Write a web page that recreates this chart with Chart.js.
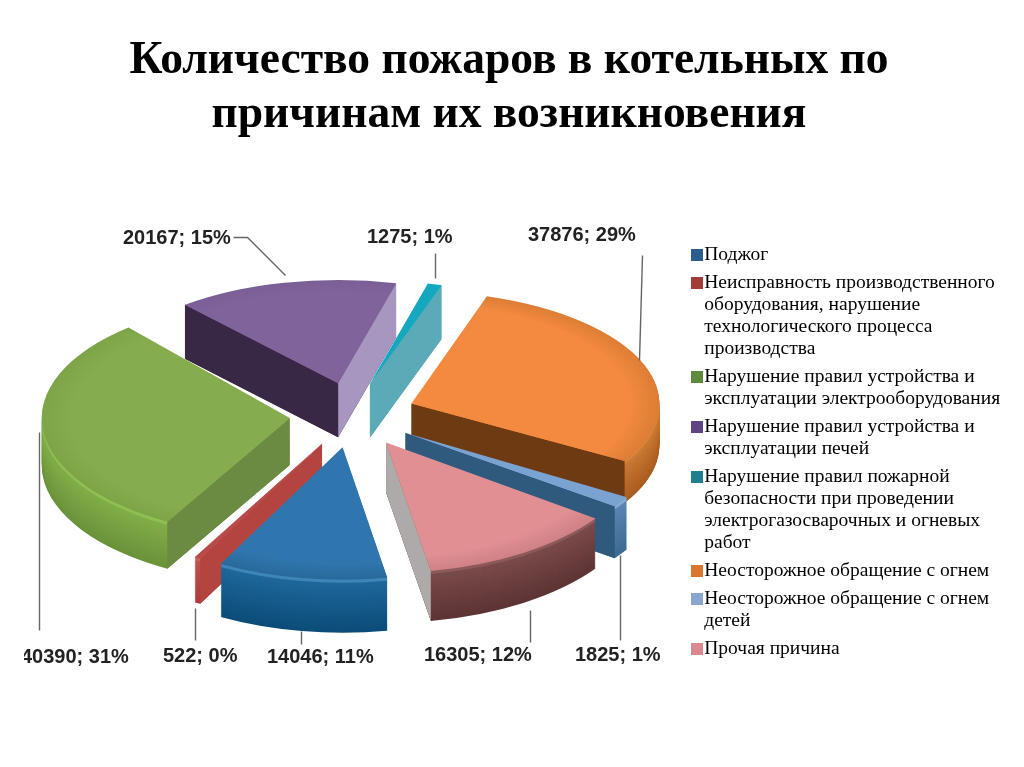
<!DOCTYPE html>
<html><head><meta charset="utf-8">
<style>html,body{margin:0;padding:0;background:#fff}canvas{display:block}</style>
<script src="https://cdn.jsdelivr.net/npm/chart.js@4"></script>
</head><body><canvas id="c" width="1024" height="767"></canvas>
<script>
const titleLines = ['Количество пожаров в котельных по', 'причинам их возникновения'];
const categories = [
  ['Поджог'],
  ['Неисправность производственного', 'оборудования, нарушение', 'технологического процесса', 'производства'],
  ['Нарушение правил устройства и', 'эксплуатации электрооборудования'],
  ['Нарушение правил устройства и', 'эксплуатации печей'],
  ['Нарушение правил пожарной', 'безопасности при проведении', 'электрогазосварочных и огневых', 'работ'],
  ['Неосторожное обращение с огнем'],
  ['Неосторожное обращение с огнем', 'детей'],
  ['Прочая причина']
];
const values = [14046, 522, 40390, 20167, 1275, 37876, 1825, 16305];

const topColors   = ['#2e76ad','#b94a4a','#85ad4e','#80639b','#14a8c0','#f38a3f','#7aa3d2','#e08f93'];
const topEdges    = ['#28699b','#b94a4a','#7da547','#7a5e95','#14a8c0','#dd7d36','#7aa3d2','#cf8186'];
const legendBoxes = ['#2c5d8f','#a33b38','#5d8a3c','#5e4484','#1f7f8f','#d9752d','#8aa5cf','#d98a90'];
const sideTop     = ['#1f6a9e','#c25450','#83b04a','#3a2846','#5aaab8','#cf7c34','#5d86b4','#7c4c4c'];
const sideBottom  = ['#0c4c78','#a83c3a','#6a933a','#3a2846','#5aaab8','#a85c20','#3d6a94','#5e3434'];
const rimColors   = ['#3f86b8','#cc5f5b','#90bf54','#80639b','#14a8c0','#d8843a','#88aad0','#8c5a5a'];
const startFaces  = ['#1f6a9e','#b4443f','#6b8a42','#382745','#14a8c0','#cf7c34','#5d86b4','#7c4c4c'];
const endFaces    = ['#1f6a9e','#b4443f','#6b8a42','#a796bf','#5aaab8','#6e3a12','#2f5a7e','#aeaaaa'];
const depths      = [53, 45, 47, 54, 54, 42, 52, 50];

/* placement of the value labels and their leader lines (page pixels) */
const labelLeft = [267, 163, 21, 123, 367, 528, 575, 424];
const labelMid  = [657, 656, 657, 238, 237, 235, 655, 655];
const leaders = [
  [[301,631],[301,644]],
  [[195,608],[195,640]],
  [[39,432],[39,630]],
  [[233,237],[247,237],[285,275]],
  [[435,253],[435,278]],
  [[642,255],[639,360]],
  [[620,555],[620,640]],
  [[530,610],[530,642]]
];

const CX = 352.5, CY = 415, OFFSET_SQUASH = 0.517, EXPLODE = 63, RADIUS = 248;
const total = values.reduce((a, b) => a + b, 0);

function hex(c){return [1,3,5].map(i=>parseInt(c.substr(i,2),16));}
function mix(a,b,t){const x=hex(a),y=hex(b);return 'rgb('+x.map((v,i)=>Math.round(v+(y[i]-v)*t)).join(',')+')';}

function boxImage(color){
  const c = document.createElement('canvas');
  c.width = 18; c.height = 12;
  const g = c.getContext('2d');
  g.fillStyle = color; g.fillRect(6, 0, 12, 12);
  return c;
}
const boxImages = legendBoxes.map(boxImage);

const pie3d = {
  id: 'pie3d',
  afterLayout(chart) {
    const l = chart.legend;
    l.left = 687.5; l.top = 239;
  },
  beforeDatasetsDraw(chart) {
    const ctx = chart.ctx, arcs = chart.getDatasetMeta(0).data;
    const info = arcs.map((el, i) => {
      const mid = (el.startAngle + el.endAngle) / 2, sn = Math.sin(mid);
      return {el, i,
        ax: CX + Math.cos(mid) * EXPLODE,
        ay: CY + sn * EXPLODE * OFFSET_SQUASH,
        sy: 0.475 + 0.06 * sn,
        kx: sn < -0.6 ? 0.95 : (sn > 0.5 ? 1.04 : 1),
        order: sn};
    }).sort((a, b) => a.order - b.order);
    const paint = (s, color, dy) => {
      const o = s.el.options;
      s.el.options = Object.assign({}, o, {backgroundColor: color, borderWidth: 0});
      ctx.save();
      ctx.translate(s.ax, s.ay + dy);
      ctx.scale(s.kx, s.sy);
      ctx.translate(-s.el.x, -s.el.y);
      s.el.draw(ctx);
      ctx.restore();
      s.el.options = o;
    };
    const face = (s, ang, color, depth) => {
      const r = s.el.outerRadius;
      const bx = s.ax + Math.cos(ang) * r * s.kx, by = s.ay + Math.sin(ang) * r * s.sy;
      ctx.fillStyle = color;
      ctx.beginPath();
      ctx.moveTo(s.ax, s.ay); ctx.lineTo(bx, by);
      ctx.lineTo(bx, by + depth); ctx.lineTo(s.ax, s.ay + depth);
      ctx.closePath(); ctx.fill();
    };
    info.forEach(s => {
      const depth = depths[s.i];
      for (let d = depth; d >= 1; d--) {
        paint(s, d <= 3 ? rimColors[s.i] : mix(sideTop[s.i], sideBottom[s.i], d / depth), d);
      }
      if (Math.sin(s.el.startAngle - Math.PI / 2) > 0) face(s, s.el.startAngle, startFaces[s.i], depth);
      if (Math.sin(s.el.endAngle + Math.PI / 2) > 0) face(s, s.el.endAngle, endFaces[s.i], depth);
      const r = s.el.outerRadius;
      const g = ctx.createRadialGradient(s.el.x, s.el.y, r * 0.88, s.el.x, s.el.y, r);
      g.addColorStop(0, topColors[s.i]);
      g.addColorStop(1, topEdges[s.i]);
      paint(s, g, 0);
    });
    return false;
  },
  afterDraw(chart) {
    const ctx = chart.ctx;
    ctx.save();
    ctx.beginPath(); ctx.rect(24, 0, 1000, 767); ctx.clip();
    ctx.strokeStyle = '#666'; ctx.lineWidth = 1.4;
    leaders.forEach(p => {
      ctx.beginPath();
      p.forEach((q, k) => k ? ctx.lineTo(q[0] + .5, q[1] + .5) : ctx.moveTo(q[0] + .5, q[1] + .5));
      ctx.stroke();
    });
    ctx.fillStyle = '#222';
    ctx.font = 'bold 20px "Liberation Sans"';
    ctx.textBaseline = 'middle'; ctx.textAlign = 'left';
    values.forEach((v, i) => ctx.fillText(v + '; ' + Math.round(v / total * 100) + '%', labelLeft[i], labelMid[i]));
    ctx.restore();
  }
};

new Chart(document.getElementById('c'), {
  type: 'pie',
  data: {
    labels: categories,
    datasets: [{data: values, backgroundColor: topColors, borderWidth: 0}]
  },
  plugins: [pie3d],
  options: {
    responsive: false,
    animation: false,
    events: [],
    rotation: 170,
    radius: RADIUS,
    layout: {padding: {left: 0, right: 6, top: 0, bottom: 0}},
    plugins: {
      tooltip: {enabled: false},
      title: {
        display: true,
        text: titleLines,
        color: '#000',
        font: {family: '"Liberation Serif"', size: 45.5, weight: 'bold', lineHeight: 1.19},
        padding: {top: 34, bottom: 96}
      },
      legend: {
        position: 'right',
        align: 'start',
        labels: {
          usePointStyle: true, pointStyleWidth: 1, boxHeight: 12, padding: 6,
          color: '#333',
          font: {family: '"Liberation Serif"', size: 19.5, lineHeight: 1.128},
          generateLabels: () => categories.map((c, i) => ({
            text: c, fillStyle: legendBoxes[i], strokeStyle: legendBoxes[i], lineWidth: 0,
            pointStyle: boxImages[i], index: i, hidden: false
          }))
        }
      }
    }
  }
});
</script></body></html>
